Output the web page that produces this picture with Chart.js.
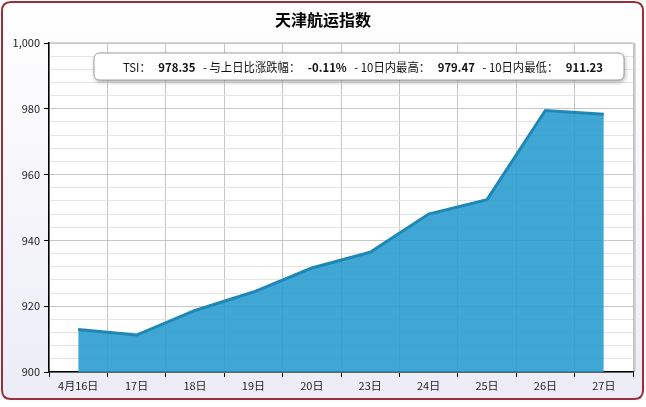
<!DOCTYPE html>
<html><head><meta charset="utf-8">
<script src="https://cdn.jsdelivr.net/npm/chart.js@4/dist/chart.umd.min.js"></script>
<style>html,body{margin:0;padding:0;background:#fff;}#wrap{width:646px;height:407px;}</style>
</head><body><div id="wrap"><canvas id="c" width="646" height="407"></canvas></div>
<script>
const chartTitle = '天津航运指数';
const categories = ['4月16日','17日','18日','19日','20日','23日','24日','25日','26日','27日'];
const tsiValues = [912.9, 911.23, 918.7, 924.3, 931.6, 936.4, 948.0, 952.4, 979.47, 978.35];
const yTicks = [900, 920, 940, 960, 980, 1000];
const infoParts = [
  ['TSI：', false], ['978.35', true], ['- 与上日比涨跌幅：', false], ['-0.11%', true],
  ['- 10日内最高：', false], ['979.47', true], ['- 10日内最低：', false], ['911.23', true]
];
const FONT = '"Noto Sans CJK SC", "Noto Sans", sans-serif';

function rr(ctx, x, y, w, h, r) {
  ctx.beginPath();
  ctx.moveTo(x + r, y); ctx.lineTo(x + w - r, y); ctx.quadraticCurveTo(x + w, y, x + w, y + r);
  ctx.lineTo(x + w, y + h - r); ctx.quadraticCurveTo(x + w, y + h, x + w - r, y + h);
  ctx.lineTo(x + r, y + h); ctx.quadraticCurveTo(x, y + h, x, y + h - r);
  ctx.lineTo(x, y + r); ctx.quadraticCurveTo(x, y, x + r, y); ctx.closePath();
}

const framePlugin = {
  id: 'frame',
  beforeDraw(chart) {
    const ctx = chart.ctx, a = chart.chartArea;
    ctx.save();
    ctx.fillStyle = '#fff'; ctx.fillRect(0, 0, chart.width, chart.height);
    const g = ctx.createLinearGradient(0, 0, 0, 400);
    g.addColorStop(0, '#ffffff'); g.addColorStop(1, '#ececf6');
    rr(ctx, 2, 2, 641, 397, 9);
    ctx.fillStyle = g; ctx.fill();
    ctx.lineWidth = 2; ctx.strokeStyle = '#9a2f3a'; ctx.stroke();
    ctx.fillStyle = '#fff';
    ctx.fillRect(a.left, a.top, a.right - a.left, a.bottom - a.top);
    ctx.fillStyle = '#c4c4c4';
    ctx.fillRect(a.right, a.top, 2.5, a.bottom - a.top);
    ctx.fillStyle = '#d8d8d8';
    ctx.fillRect(a.left, a.top - 1, a.right - a.left, 1.5);
    ctx.fillStyle = '#000';
    ctx.font = 'bold 16px ' + FONT;
    ctx.textAlign = 'center'; ctx.textBaseline = 'middle';
    ctx.fillText(chartTitle, 323, 20);
    ctx.restore();
  },
  afterDraw(chart) {
    const ctx = chart.ctx;
    ctx.save();
    const bx = 94, by = 53, bw = 530, bh = 27;
    ctx.shadowColor = 'rgba(0,0,0,0.35)'; ctx.shadowBlur = 4; ctx.shadowOffsetX = 1; ctx.shadowOffsetY = 2;
    rr(ctx, bx, by, bw, bh, 6);
    ctx.fillStyle = '#fff'; ctx.fill();
    ctx.shadowColor = 'transparent';
    ctx.lineWidth = 1; ctx.strokeStyle = '#a0a0a0'; ctx.stroke();
    const gap = 8;
    const fs = 12;
    let widths = infoParts.map(p => { ctx.font = (p[1] ? 'bold ' : '') + fs + 'px ' + FONT; return ctx.measureText(p[0]).width; });
    let total = widths.reduce((s, w) => s + w, 0) + gap * (infoParts.length - 1);
    const target = 480;
    const sc = target / total;
    ctx.textBaseline = 'middle'; ctx.textAlign = 'left'; ctx.fillStyle = '#111';
    ctx.translate(123, 67); ctx.scale(sc, 1);
    let cx = 0;
    infoParts.forEach((p, i) => {
      ctx.font = (p[1] ? 'bold ' : '') + fs + 'px ' + FONT;
      ctx.fillText(p[0], cx, 0);
      cx += widths[i] + gap;
    });
    ctx.restore();
  }
};

new Chart(document.getElementById('c'), {
  type: 'line',
  data: {
    labels: categories,
    datasets: [{
      data: tsiValues,
      borderColor: '#1e87b5',
      borderWidth: 3,
      backgroundColor: 'rgba(38,155,207,0.88)',
      fill: 'start',
      tension: 0,
      pointRadius: 0,
      pointHoverRadius: 0
    }]
  },
  options: {
    responsive: false,
    animation: false,
    layout: { padding: { left: 0, right: 13, top: 43, bottom: 0 } },
    plugins: { legend: { display: false }, tooltip: { enabled: false }, title: { display: false } },
    scales: {
      x: {
        offset: true,
        afterFit(s) { s.height = 35; },
        grid: { offset: true, color: '#c6c6c6', lineWidth: 1, tickColor: '#000', tickLength: 5, drawOnChartArea: true },
        border: { color: '#000', width: 1.5 },
        ticks: { color: '#222', font: { family: FONT, size: 11 }, padding: 2, maxRotation: 0, autoSkip: false }
      },
      y: {
        min: 900, max: 1000,
        afterFit(s) { s.width = 49; },
        afterBuildTicks(s) {
          const t = [];
          for (let v = 900; v <= 1000; v += 4) t.push({ value: v });
          yTicks.forEach(v => { if (!t.some(o => o.value === v)) t.push({ value: v }); });
          t.sort((a, b) => a.value - b.value);
          s.ticks = t;
        },
        grid: {
          color: c => (yTicks.includes(c.tick.value) ? '#c6c6c6' : '#e4e4e4'),
          tickColor: c => (yTicks.includes(c.tick.value) ? '#000' : 'rgba(0,0,0,0)'),
          tickLength: 5
        },
        border: { color: '#000', width: 1.5 },
        ticks: {
          autoSkip: false,
          color: '#222',
          font: { family: FONT, size: 11 },
          padding: 4,
          callback: v => (yTicks.includes(v) ? v.toLocaleString('en-US') : '')
        }
      }
    }
  },
  plugins: [framePlugin]
});
</script></body></html>
